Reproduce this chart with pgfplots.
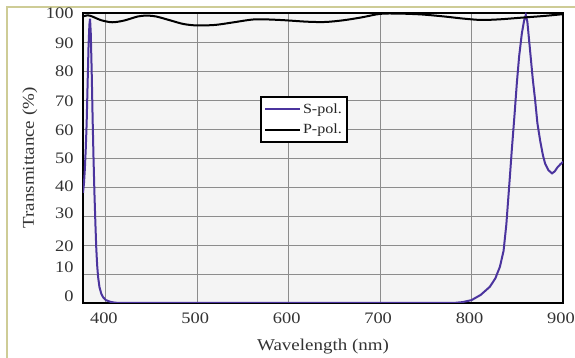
\documentclass[border=0pt]{standalone}
\usepackage{fontspec}
\setmainfont{Liberation Serif}[FakeStretch=1.15]
\usepackage{pgfplots}
\pgfplotsset{compat=1.18}
\definecolor{spol}{RGB}{75,52,158}
\definecolor{framebeige}{RGB}{206,204,150}
\definecolor{bggray}{RGB}{244,244,244}
\definecolor{gridgray}{RGB}{140,140,140}

\pgfplotstableread{
x y
375 38
376 41
377 46
378 53
379 62
380 75
381 88
382 96
382.7 98
383.5 93
384.5 80
385.5 64
386.5 50
387.5 38
388.5 28
389.5 19
390.5 13
391.5 9
393 5.5
395 3.2
397 2
400 1
405 0.4
410 0.1
420 0
780 0
790 0.3
800 1
810 2.8
820 5.6
826 8.5
831 12.5
835 18
838 27
840 35.5
842 44
844 52.8
847 65
849.5 75.8
852 85
855 93
857.5 97.5
859.3 99.3
861 97
864 87
867 77
869.5 70
872 62
875 56
878 51
880.5 48
884 45.8
888 44.7
891 45.4
894 46.8
897 47.8
900 48.7
}\spol

\pgfplotstableread{
x y
375 98.8
380 99.2
385 98.8
395 97.5
407 96.8
420 97.4
435 98.8
445 99.1
455 98.8
470 97.5
485 96.2
500 95.7
520 95.9
540 96.8
563 97.8
590 97.6
620 97.0
640 96.9
660 97.5
680 98.5
700 99.7
720 99.8
745 99.5
770 98.8
790 98.1
810 97.6
830 97.8
855 98.4
880 99.0
900 99.6
}\ppol

\begin{document}
\begin{tikzpicture}
\path[use as bounding box] (-83pt,-55pt) rectangle (492pt,303pt);
\draw[framebeige, line width=2.2pt] (-76pt,-56pt) -- (-76pt,296pt) -- (493pt,296pt);
\begin{axis}[
  name=ax, at={(0pt,0pt)}, anchor=south west,
  scale only axis, width=480pt, height=290pt,
  xmin=375, xmax=900, ymin=0, ymax=100,
  axis background/.style={fill=bggray},
  axis line style={line width=2.4pt},
  xtick={400,500,...,900},
  ytick={2.4,12.2,19.7,31,40.1,50,59.7,69.7,80,89.7,100},
  yticklabels={0,10,20,30,40,50,60,70,80,90,100},
  minor ytick={10,20,...,90},
  xmajorgrids, yminorgrids,
  major grid style={gridgray, line width=0.9pt},
  minor grid style={gridgray, line width=0.9pt},
  major tick length=0pt, minor tick length=0pt,
  tick style={draw=none},
  /pgf/number format/assume math mode=true,
  ticklabel style={font=\fontsize{16}{18}\selectfont, text=black!80},
  xticklabel style={yshift=-6pt, xshift=-2pt},
  yticklabel style={xshift=-6pt},
  xlabel={Wavelength (nm)}, ylabel={Transmittance (\%)},
  label style={font=\fontsize{16.5}{19}\selectfont, text=black!80},
  xlabel style={at={(axis description cs:0.5,-0.1517)}, anchor=center},
  ylabel style={at={(axis description cs:-0.1104,0.5)}, anchor=center},
  legend style={at={(rel axis cs:0.369,0.714)}, anchor=north west,
    draw=black, line width=1.8pt, fill=white,
    font=\fontsize{14}{16}\selectfont, text=black!85,
    inner xsep=3pt, inner ysep=5pt, row sep=5pt},
  legend cell align=left,
  legend image code/.code={\draw[#1] (0pt,0pt) -- (35pt,0pt);},
]
\addplot[spol, line width=2pt] table {\spol};
\addlegendentry{S-pol.}
\addplot[black, line width=2pt, smooth] table {\ppol};
\addlegendentry{P-pol.}
\end{axis}
\end{tikzpicture}
\end{document}
